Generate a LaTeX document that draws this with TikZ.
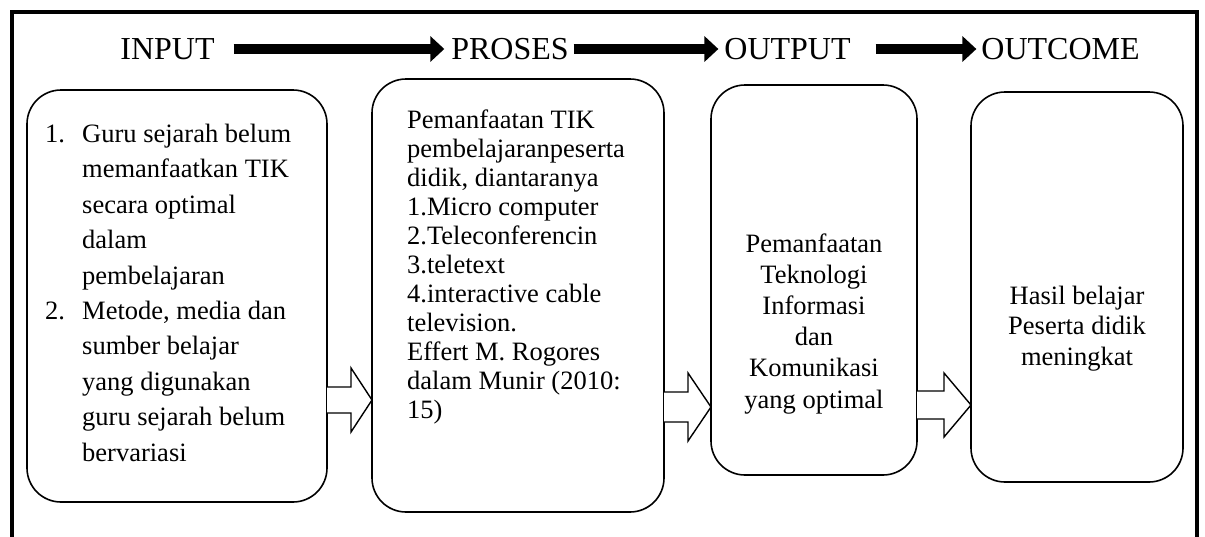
\documentclass[tikz,border=0pt]{standalone}
\usepackage{fontspec}
\setmainfont{Liberation Serif}
\usepackage{tikz}
\usetikzlibrary{arrows.meta,calc}

\begin{document}
\begin{tikzpicture}[x=1pt, y=-1pt,
    hdr/.style={font=\fontsize{32}{36}\selectfont, inner sep=5pt, outer sep=0pt},
    hdrarrow/.style={line width=10.5pt, -{Triangle[length=14pt,width=25pt]}},
    stagebox/.style={draw, line width=1.6pt, rounded corners=34pt, outer sep=0pt},
    bodytxt/.style={inner sep=0pt, align=left},
    hollowarrow/.style={draw, line width=1.4pt, fill=white, line join=miter}
]
\useasboundingbox (0,0) rectangle (1205,536);
% outer frame (runs past the bottom edge)
\draw[line width=4.5pt] (12,12) rectangle (1197,570);

% headings
\node[hdr] (input) at (167.5,49) {INPUT};
\node[hdr] (proses) at (510,49) {PROSES};
\node[hdr] (output) at (787.5,49) {OUTPUT};
\node[hdr] (outcome) at (1060.5,49) {OUTCOME};
\draw[hdrarrow, shorten <=14pt, shorten >=2pt] (input) -- (proses);
\draw[hdrarrow, shorten >=1pt] (proses) -- (output);
\draw[hdrarrow, shorten <=20pt] (output) -- (outcome);

% stage boxes
\node[stagebox, minimum width=300pt, minimum height=412pt] (inbox) at (177,296) {};
\node[stagebox, minimum width=292pt, minimum height=433pt] (prosesbox) at (518,295.5) {};
\node[stagebox, minimum width=206pt, minimum height=390pt] (outbox) at (814,280) {};
\node[stagebox, minimum width=212pt, minimum height=390pt] (outcomebox) at (1077,287) {};

% box texts (base = last line)
\node[bodytxt, anchor=base west, font=\fontsize{26.5}{35.4}\selectfont] (intxt) at (45,461) {%
    \makebox[37pt][l]{1.}Guru sejarah belum\\
    \hspace*{37pt}memanfaatkan TIK\\
    \hspace*{37pt}secara optimal\\
    \hspace*{37pt}dalam\\
    \hspace*{37pt}pembelajaran\\
    \makebox[37pt][l]{2.}Metode, media dan\\
    \hspace*{37pt}sumber belajar\\
    \hspace*{37pt}yang digunakan\\
    \hspace*{37pt}guru sejarah belum\\
    \hspace*{37pt}bervariasi};
\node[bodytxt, anchor=base west, font=\fontsize{26.5}{29}\selectfont] (prosestxt) at (407,418) {%
    Pemanfaatan TIK\\
    pembelajaranpeserta\\
    didik, diantaranya\\
    1.Micro computer\\
    2.Teleconferencin\\
    3.teletext\\
    4.interactive cable\\
    television.\\
    Effert M. Rogores\\
    dalam Munir (2010:\\
    15)};
\node[bodytxt, align=center, anchor=base, font=\fontsize{26.5}{31.2}\selectfont] (outtxt) at (814,408) {%
    Pemanfaatan\\ Teknologi\\ Informasi\\ dan\\ Komunikasi\\ yang optimal};
\node[bodytxt, align=center, anchor=base, font=\fontsize{26.5}{30.5}\selectfont] (outcometxt) at (1077,365) {%
    Hasil belajar\\ Peserta didik\\ meningkat};

% hollow arrows between the boxes
\coordinate (a1) at (0,400);
\coordinate (a2) at (0,407);
\coordinate (a3) at (0,405);
\draw[hollowarrow] ($(inbox.east|-a1)+(0,-13)$) -- ($(prosesbox.west|-a1)+(-21,-13)$)
    -- ++(0,-19) -- (prosesbox.west|-a1) -- ++(-21,32) -- ++(0,-19)
    -- ($(inbox.east|-a1)+(0,13)$);
\draw[hollowarrow] ($(prosesbox.east|-a2)+(0,-15)$) -- ($(outbox.west|-a2)+(-23,-15)$)
    -- ++(0,-19) -- (outbox.west|-a2) -- ++(-23,34) -- ++(0,-19)
    -- ($(prosesbox.east|-a2)+(0,15)$);
\draw[hollowarrow] ($(outbox.east|-a3)+(0,-14)$) -- ($(outcomebox.west|-a3)+(-27,-14)$)
    -- ++(0,-18) -- (outcomebox.west|-a3) -- ++(-27,32) -- ++(0,-18)
    -- ($(outbox.east|-a3)+(0,14)$);
\end{tikzpicture}
\end{document}
